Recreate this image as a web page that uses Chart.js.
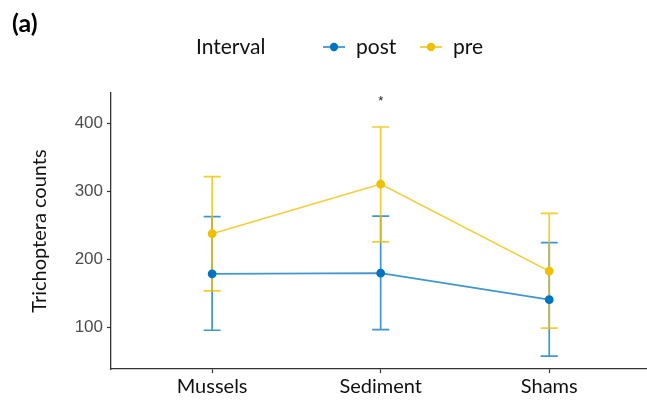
<!DOCTYPE html>
<html>
<head>
<meta charset="utf-8">
<script src="https://cdn.jsdelivr.net/npm/chart.js@4.4.1/dist/chart.umd.min.js"></script>
<style>
  html, body { margin: 0; padding: 0; background: #ffffff; overflow: hidden; }
  #wrap { width: 647px; height: 404px; }
  canvas { display: block; }
</style>
</head>
<body>
<div id="wrap"><canvas id="chart" width="647" height="404"></canvas></div>
<script>
// Trichoptera counts by treatment, before and after the interval
const categories = ['Mussels', 'Sediment', 'Shams'];
const intervals = ['post', 'pre'];

const postMean = [179, 180, 141];
const postLow  = [96, 97, 58];
const postHigh = [263, 264, 225];

const preMean = [238, 311, 183];
const preLow  = [154, 226, 99];
const preHigh = [322, 395, 268];

const yTicks = [100, 200, 300, 400];

// significance marks: [category index, y value, text]
const marks = [[1, 436, '*']];

const BLUE = '#0073C2';
const YELLOW = '#EFC000';
const labelFont = 'Lato, "Open Sans", sans-serif';

const series = [
  { name: intervals[0], mean: postMean, low: postLow, high: postHigh, color: BLUE, line: 'rgba(0,115,194,0.75)' },
  { name: intervals[1], mean: preMean, low: preLow, high: preHigh, color: YELLOW, line: 'rgba(239,192,0,0.8)' }
];

const datasets = series.map(s => ({
  label: s.name,
  data: s.mean.map((v, i) => ({ x: i, y: v })),
  borderColor: s.line,
  backgroundColor: s.color,
  pointBackgroundColor: s.color,
  pointBorderColor: s.color,
  pointRadius: 3.6,
  pointHoverRadius: 3.6,
  borderWidth: 1.6,
  tension: 0
}));

// vertical error bars with caps, drawn in data space
const errorBars = {
  id: 'errorBars',
  beforeDatasetsDraw(chart) {
    const { ctx, scales: { x, y } } = chart;
    const cap = 8.5;
    ctx.save();
    series.forEach(s => {
      ctx.strokeStyle = s.line;
      ctx.lineWidth = 1.7;
      s.mean.forEach((m, i) => {
        const px = x.getPixelForValue(i);
        const top = y.getPixelForValue(s.high[i]);
        const bot = y.getPixelForValue(s.low[i]);
        ctx.beginPath();
        ctx.moveTo(px, top); ctx.lineTo(px, bot);
        ctx.moveTo(px - cap, top); ctx.lineTo(px + cap, top);
        ctx.moveTo(px - cap, bot); ctx.lineTo(px + cap, bot);
        ctx.stroke();
      });
    });
    ctx.restore();
  },
  afterDatasetsDraw(chart) {
    const { ctx, scales: { x, y } } = chart;
    ctx.save();
    ctx.fillStyle = '#222';
    ctx.font = '13px "Liberation Sans", Arial, sans-serif';
    ctx.textAlign = 'center';
    ctx.textBaseline = 'middle';
    marks.forEach(([i, v, t]) => {
      ctx.fillText(t, x.getPixelForValue(i), y.getPixelForValue(v) + 2);
    });
    ctx.restore();
  }
};

// panel tag and horizontal legend with its title
const header = {
  id: 'header',
  afterDraw(chart) {
    const { ctx } = chart;
    ctx.save();
    ctx.fillStyle = '#000';
    ctx.textBaseline = 'middle';
    ctx.textAlign = 'left';
    ctx.font = 'bold 25px ' + labelFont;
    ctx.fillText('(a)', 12, 24);

    const ly = 47;
    ctx.font = '21px ' + labelFont;
    ctx.fillStyle = '#111';
    ctx.fillText('Interval', 196, ly);

    const starts = [323, 420];
    series.forEach((s, k) => {
      const x0 = starts[k];
      ctx.strokeStyle = s.line;
      ctx.lineWidth = 1.8;
      ctx.beginPath();
      ctx.moveTo(x0, ly); ctx.lineTo(x0 + 22, ly);
      ctx.stroke();
      ctx.fillStyle = s.color;
      ctx.beginPath();
      ctx.arc(x0 + 11, ly, 4.2, 0, Math.PI * 2);
      ctx.fill();
      ctx.fillStyle = '#111';
      ctx.fillText(s.name, x0 + 33, ly);
    });
    ctx.restore();
  }
};

new Chart(document.getElementById('chart'), {
  type: 'line',
  data: { datasets },
  plugins: [errorBars, header],
  options: {
    responsive: false,
    devicePixelRatio: 1,
    animation: false,
    layout: { autoPadding: false, padding: { top: 93, right: 0, bottom: 0, left: 0 } },
    plugins: { legend: { display: false }, tooltip: { enabled: false } },
    scales: {
      x: {
        type: 'linear',
        min: -0.6,
        max: 2.58,
        afterBuildTicks(scale) { scale.ticks = categories.map((c, i) => ({ value: i })); },
        afterFit(scale) {
          scale.height = 35;
          scale.paddingLeft = 0;
          scale.paddingRight = 0;
        },
        ticks: {
          autoSkip: false,
          maxRotation: 0,
          padding: 2,
          color: '#111',
          font: { family: labelFont, size: 20 },
          callback: v => categories[v]
        },
        grid: { display: true, drawOnChartArea: false, drawTicks: true, tickLength: 4, tickColor: '#333', tickWidth: 1.2 },
        border: { display: true, color: '#333', width: 1.3 }
      },
      y: {
        type: 'linear',
        min: 39,
        max: 445,
        afterBuildTicks(scale) { scale.ticks = yTicks.map(v => ({ value: v })); },
        afterFit(scale) {
          scale.width = 111;
          scale.paddingTop = 0;
          scale.paddingBottom = 0;
        },
        ticks: {
          padding: 4,
          color: '#4D4D4D',
          font: { family: '"Liberation Sans", Arial, sans-serif', size: 17 }
        },
        title: {
          display: true,
          text: 'Trichoptera counts',
          color: '#111',
          font: { family: labelFont, size: 20 },
          padding: { top: 28, bottom: 0 }
        },
        grid: { display: true, drawOnChartArea: false, drawTicks: true, tickLength: 4, tickColor: '#333', tickWidth: 1.2 },
        border: { display: true, color: '#333', width: 1.3 }
      }
    }
  }
});
</script>
</body>
</html>
